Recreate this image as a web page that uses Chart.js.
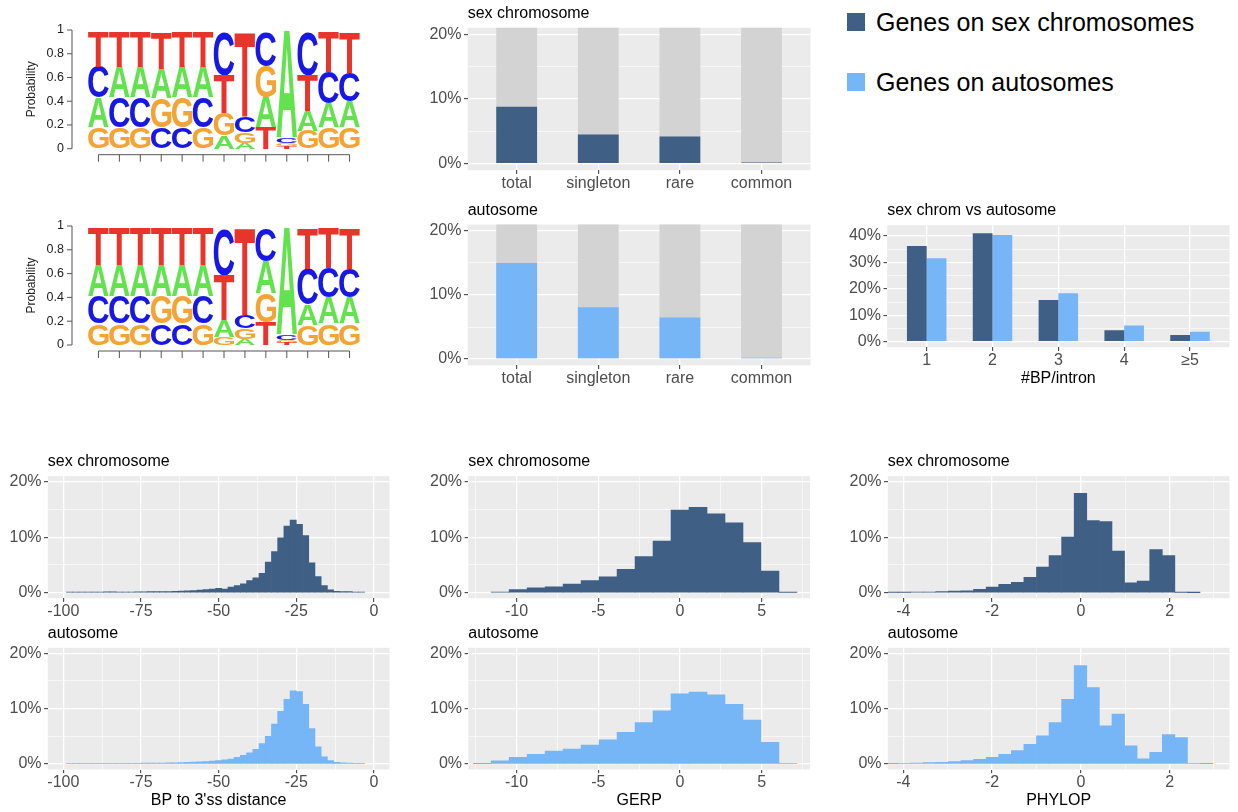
<!DOCTYPE html>
<html lang="en">
<head>
<meta charset="utf-8">
<title>Branch point features: sex chromosomes vs autosomes</title>
<script src="https://cdn.jsdelivr.net/npm/chart.js@4.4.1/dist/chart.umd.min.js"></script>
<style>
  html, body { margin: 0; padding: 0; background: #ffffff; }
  body { position: relative; width: 1238px; height: 812px; overflow: hidden;
         font-family: "Liberation Sans", Arial, Helvetica, sans-serif; }
  canvas.fig { position: absolute; }
  .key { position: absolute; left: 847px; height: 26px; display: flex; align-items: center;
         font-size: 25px; color: #000; white-space: nowrap; }
  .key i { display: inline-block; width: 18px; height: 18px; margin-right: 11px; }
</style>
</head>
<body>
<canvas class="fig" id="logoSex"></canvas>
<canvas class="fig" id="logoAuto"></canvas>
<canvas class="fig" id="varSex"></canvas>
<canvas class="fig" id="varAuto"></canvas>
<canvas class="fig" id="bpCount"></canvas>
<canvas class="fig" id="distSex"></canvas>
<canvas class="fig" id="distAuto"></canvas>
<canvas class="fig" id="gerpSex"></canvas>
<canvas class="fig" id="gerpAuto"></canvas>
<canvas class="fig" id="phylopSex"></canvas>
<canvas class="fig" id="phylopAuto"></canvas>

<div class="key" style="top:9px"><i style="background:#3F5F85"></i>Genes on sex chromosomes</div>
<div class="key" style="top:69px"><i style="background:#76B5F6"></i>Genes on autosomes</div>

<script>
// ---------- sequence logos: letter probabilities per position ----------
const logoPositions = ['1','2','3','4','5','6','7','8','9','10','11','12','13'];
const logoTicks = [0, 0.2, 0.4, 0.6, 0.8, 1];
const logoTickLabels = ['0', '0.2', '0.4', '0.6', '0.8', '1'];

const sexLogoA = [0.25, 0.26, 0.26, 0.25, 0.26, 0.26, 0.11, 0.05, 0.255, 0.90, 0.17, 0.20, 0.215];
const sexLogoC = [0.26, 0.25, 0.25, 0.18, 0.18, 0.25, 0.36, 0.13, 0.285, 0.045, 0.36, 0.27, 0.245];
const sexLogoG = [0.18, 0.18, 0.18, 0.245, 0.25, 0.18, 0.19, 0.09, 0.26, 0.025, 0.15, 0.18, 0.18];
const sexLogoT = [0.29, 0.29, 0.29, 0.305, 0.29, 0.29, 0.32, 0.71, 0.18, 0.02, 0.30, 0.33, 0.34];

const autoLogoA = [0.26, 0.26, 0.26, 0.26, 0.26, 0.26, 0.14, 0.05, 0.265, 0.905, 0.175, 0.22, 0.22];
const autoLogoC = [0.23, 0.23, 0.23, 0.18, 0.18, 0.23, 0.385, 0.11, 0.28, 0.04, 0.30, 0.25, 0.24];
const autoLogoG = [0.18, 0.18, 0.18, 0.23, 0.23, 0.18, 0.07, 0.09, 0.245, 0.025, 0.165, 0.18, 0.18];
const autoLogoT = [0.31, 0.31, 0.31, 0.31, 0.31, 0.31, 0.375, 0.73, 0.19, 0.02, 0.34, 0.33, 0.34];

// ---------- variant classes (% of branch points) ----------
const variantClasses = ['total', 'singleton', 'rare', 'common'];
const sexVariantPct  = [8.8, 4.5, 4.2, 0.2];
const autoVariantPct = [15.0, 8.1, 6.5, 0.2];
const allVariantPct  = [100, 100, 100, 100];

// ---------- branch points per intron ----------
const bpPerIntron = ['1', '2', '3', '4', '≥5'];
const sexBpPerIntronPct  = [36.2, 41.0, 15.8, 4.3, 2.5];
const autoBpPerIntronPct = [31.6, 40.4, 18.3, 6.1, 3.8];

// ---------- BP to 3'ss distance histogram (bin centres, %) ----------
const distBins = [-98, -96, -94, -92, -90, -88, -86, -84, -82, -80, -78, -76, -74, -72, -70, -68,
                  -66, -64, -62, -60, -58, -56, -54, -52, -50, -48, -46, -44, -42, -40, -38, -36,
                  -34, -32, -30, -28, -26, -24, -22, -20, -18, -16, -14, -12, -10, -8, -6, -4];
const distSexPct = [0.10, 0.10, 0.10, 0.10, 0.12, 0.12, 0.14, 0.15, 0.12, 0.13, 0.13, 0.14, 0.15, 0.18, 0.20, 0.20,
                    0.22, 0.25, 0.28, 0.32, 0.38, 0.45, 0.55, 0.65, 0.80, 0.65, 1.00, 1.30, 1.60, 2.20, 2.70, 3.50,
                    5.50, 7.40, 9.90, 12.00, 13.10, 12.30, 10.30, 5.40, 2.90, 1.30, 0.50, 0.25, 0.20, 0.20, 0.10, 0.10];
const distAutoPct = [0.08, 0.08, 0.08, 0.09, 0.09, 0.10, 0.10, 0.11, 0.11, 0.12, 0.12, 0.13, 0.14, 0.15, 0.16, 0.18,
                     0.20, 0.22, 0.25, 0.28, 0.32, 0.37, 0.42, 0.50, 0.60, 0.75, 0.90, 1.20, 1.55, 2.00, 2.65, 3.70,
                     5.00, 7.20, 9.50, 11.70, 13.20, 13.10, 10.80, 6.40, 3.10, 1.30, 0.60, 0.30, 0.20, 0.15, 0.10, 0.08];

// ---------- GERP histogram ----------
const gerpBins = [-12.1, -11.0, -9.9, -8.8, -7.7, -6.6, -5.5, -4.4, -3.3, -2.2, -1.1, 0.0, 1.1, 2.2, 3.3, 4.4, 5.5, 6.6];
const gerpSexPct  = [null, 0.10, 0.54, 0.90, 1.07, 1.55, 2.20, 2.86, 4.20, 6.50, 9.30, 14.90, 15.40, 14.20, 12.60, 9.05, 3.90, 0.05];
const gerpAutoPct = [0.05, 0.55, 1.20, 1.75, 2.35, 2.70, 3.40, 4.35, 5.70, 7.50, 9.60, 12.70, 13.00, 12.50, 10.80, 7.95, 3.90, 0.10];

// ---------- PHYLOP histogram ----------
const phylopBins = [-4.260, -3.977, -3.693, -3.410, -3.126, -2.843, -2.559, -2.276, -1.992, -1.709, -1.425, -1.142, -0.858,
                    -0.575, -0.291, -0.008, 0.276, 0.560, 0.843, 1.127, 1.410, 1.694, 1.977, 2.261, 2.544, 2.828];
const phylopSexPct  = [0.05, 0.06, 0.12, 0.12, 0.20, 0.30, 0.35, 0.60, 1.00, 1.50, 1.85, 2.75, 4.60,
                       6.70, 10.00, 17.90, 13.00, 12.80, 7.50, 1.80, 2.10, 7.75, 6.70, 0.06, 0.02, null];
const phylopAutoPct = [0.06, 0.12, 0.18, 0.24, 0.30, 0.42, 0.60, 0.85, 1.20, 1.75, 2.40, 3.55, 5.10,
                       7.50, 11.70, 17.80, 13.80, 6.90, 9.00, 3.30, 0.95, 2.10, 5.30, 4.75, 0.10, 0.05];

// ---------- axis breaks ----------
const pct20Breaks = [0, 5, 10, 15, 20],  pct20Major = [0, 10, 20];
const pct40Breaks = [0, 5, 10, 15, 20, 25, 30, 35, 40], pct40Major = [0, 10, 20, 30, 40];
const distBreaks = [-100, -87.5, -75, -62.5, -50, -37.5, -25, -12.5, 0], distMajor = [-100, -75, -50, -25, 0];
const gerpBreaks = [-12.5, -10, -7.5, -5, -2.5, 0, 2.5, 5, 7.5], gerpMajor = [-10, -5, 0, 5];
const phylopBreaks = [-4, -3, -2, -1, 0, 1, 2, 3], phylopMajor = [-4, -2, 0, 2];

// ---------- styling ----------
const DARK = '#3F5F85', LIGHT = '#76B5F6', GREY = '#D3D3D3', PANEL_BG = '#EBEBEB', TICK_TEXT = '#4D4D4D';
const LETTER_COLORS = { A: '#62E34E', C: '#1818E6', G: '#F3A434', T: '#E8342A' };
const FONT = '"Liberation Sans", Arial, Helvetica, sans-serif';
Chart.defaults.font.family = FONT;

function sizeCanvas(id, box) {
  const cv = document.getElementById(id);
  cv.width = box.w; cv.height = box.h;
  cv.style.left = box.x + 'px'; cv.style.top = box.y + 'px';
  cv.style.width = box.w + 'px'; cv.style.height = box.h + 'px';
  return cv;
}

// grey panel background behind the grid
const panelBackground = {
  id: 'panelBackground',
  beforeDraw(chart) {
    const { ctx, chartArea: a } = chart;
    ctx.save();
    ctx.fillStyle = PANEL_BG;
    ctx.fillRect(a.left, a.top, a.width, a.height);
    ctx.restore();
  }
};

// left-aligned panel title above the plotting area
const panelTitle = {
  id: 'panelTitle',
  afterDraw(chart, args, opts) {
    if (!opts || !opts.text) return;
    const { ctx, chartArea: a } = chart;
    ctx.save();
    ctx.fillStyle = '#000';
    ctx.font = '16px ' + FONT;
    ctx.textAlign = 'left';
    ctx.textBaseline = 'alphabetic';
    ctx.fillText(opts.text, a.left, a.top - 10);
    ctx.restore();
  }
};

const near = (list, v) => list.some(m => Math.abs(m - v) < 1e-6);

function axisGrid(major) {
  return {
    color: '#FFFFFF',
    lineWidth: c => near(major, c.tick.value) ? 1.3 : 0.6,
    drawTicks: true,
    tickLength: 3.7,
    tickWidth: 1,
    tickColor: c => near(major, c.tick.value) ? '#333333' : 'rgba(0,0,0,0)',
    offset: false
  };
}

function ggChart(id, box, panel, spec) {
  const cv = sizeCanvas(id, box);
  return new Chart(cv, {
    type: 'bar',
    data: { datasets: spec.datasets },
    options: {
      responsive: false,
      animation: false,
      devicePixelRatio: 1,
      layout: {
        autoPadding: false,
        padding: { left: 0, bottom: 0, top: panel.top - box.y, right: box.x + box.w - panel.right }
      },
      plugins: { legend: { display: false }, tooltip: { enabled: false }, panelTitle: { text: spec.title } },
      scales: {
        x: {
          type: 'linear', position: 'bottom', min: spec.xMin, max: spec.xMax, offset: false,
          afterBuildTicks: s => { s.ticks = spec.xBreaks.map(v => ({ value: v })); },
          afterFit: s => { s.height = box.y + box.h - panel.bottom; s.paddingLeft = 0; s.paddingRight = 0; },
          grid: axisGrid(spec.xMajor),
          border: { display: false },
          ticks: {
            autoSkip: false, maxRotation: 0, minRotation: 0, padding: 0,
            color: TICK_TEXT, font: { size: 16 },
            callback: v => near(spec.xMajor, v) ? spec.xLabel(v) : ''
          },
          title: spec.xTitle
            ? { display: true, text: spec.xTitle, color: '#000', font: { size: 16 }, padding: { top: 0, bottom: spec.xTitlePad } }
            : { display: false }
        },
        y: {
          type: 'linear', position: 'left', min: spec.yMin, max: spec.yMax,
          afterBuildTicks: s => { s.ticks = spec.yBreaks.map(v => ({ value: v })); },
          afterFit: s => { s.width = panel.left - box.x; s.paddingTop = 0; s.paddingBottom = 0; },
          grid: axisGrid(spec.yMajor),
          border: { display: false },
          ticks: {
            autoSkip: false, padding: 2.6, color: TICK_TEXT, font: { size: 16 },
            callback: v => near(spec.yMajor, v) ? v + '%' : ''
          }
        }
      }
    },
    plugins: [panelBackground, panelTitle]
  });
}

function pairs(xs, ys) { return xs.map((x, i) => ({ x: x, y: ys[i] })); }

function histogram(id, box, panel, title, bins, values, color, axis, xTitle) {
  return ggChart(id, box, panel, {
    title: title,
    datasets: [{ data: pairs(bins, values), backgroundColor: color, borderWidth: 0,
                 barPercentage: 1, categoryPercentage: 1 }],
    xMin: axis.min, xMax: axis.max, xBreaks: axis.breaks, xMajor: axis.major,
    xLabel: v => String(v), xTitle: xTitle, xTitlePad: 2.1,
    yMin: -1, yMax: 21, yBreaks: pct20Breaks, yMajor: pct20Major
  });
}

function variantChart(id, box, panel, title, values, color) {
  const idx = variantClasses.map((c, i) => i + 1);
  return ggChart(id, box, panel, {
    title: title,
    datasets: [
      { data: pairs(idx, values), backgroundColor: color, borderWidth: 0, grouped: false,
        barPercentage: 0.5, categoryPercentage: 1, order: 1 },
      { data: pairs(idx, allVariantPct), backgroundColor: GREY, borderWidth: 0, grouped: false,
        barPercentage: 0.5, categoryPercentage: 1, order: 2 }
    ],
    xMin: 0.4, xMax: 4.6, xBreaks: idx, xMajor: idx, xLabel: v => variantClasses[v - 1],
    yMin: -1, yMax: 21, yBreaks: pct20Breaks, yMajor: pct20Major
  });
}

// ---------- sequence logo drawing ----------
function drawGlyph(ctx, letter, x0, y0, w, h, color) {
  if (w <= 0 || h <= 0) return;
  ctx.save();
  ctx.font = 'bold 200px ' + FONT;
  const m = ctx.measureText(letter);
  const gw = m.actualBoundingBoxLeft + m.actualBoundingBoxRight;
  const gh = m.actualBoundingBoxAscent + m.actualBoundingBoxDescent;
  ctx.translate(x0, y0);
  ctx.scale(w / gw, h / gh);
  ctx.fillStyle = color;
  ctx.textAlign = 'left';
  ctx.textBaseline = 'alphabetic';
  ctx.fillText(letter, m.actualBoundingBoxLeft, m.actualBoundingBoxAscent);
  ctx.restore();
}

const logoLetters = {
  id: 'logoLetters',
  afterDatasetsDraw(chart) {
    const ctx = chart.ctx;
    chart.data.datasets.forEach((ds, di) => {
      chart.getDatasetMeta(di).data.forEach(bar => {
        const p = bar.getProps(['x', 'y', 'base', 'width'], true);
        const top = Math.min(p.y, p.base), h = Math.abs(p.base - p.y);
        drawGlyph(ctx, ds.label, p.x - p.width * 0.49, top, p.width * 0.98, h, LETTER_COLORS[ds.label]);
      });
    });
  }
};

// base-graphics style axes for the logo
const logoAxes = {
  id: 'logoAxes',
  afterDraw(chart) {
    const { ctx, chartArea: a, scales: { x, y } } = chart;
    const axX = a.left - 16;
    const y0 = y.getPixelForValue(0), y1 = y.getPixelForValue(1);
    ctx.save();
    ctx.strokeStyle = '#555';
    ctx.lineWidth = 1;
    ctx.beginPath();
    ctx.moveTo(axX, y0); ctx.lineTo(axX, y1);
    logoTicks.forEach(v => { const py = y.getPixelForValue(v); ctx.moveTo(axX - 5, py); ctx.lineTo(axX, py); });
    const axY = a.bottom + 6;
    ctx.moveTo(x.getPixelForValue(0), axY);
    ctx.lineTo(x.getPixelForValue(logoPositions.length - 1), axY);
    logoPositions.forEach((_, i) => { const px = x.getPixelForValue(i); ctx.moveTo(px, axY); ctx.lineTo(px, axY + 7); });
    ctx.stroke();
    ctx.fillStyle = '#222';
    ctx.font = '12.5px ' + FONT;
    ctx.textAlign = 'right';
    ctx.textBaseline = 'middle';
    logoTicks.forEach((v, i) => ctx.fillText(logoTickLabels[i], axX - 8, y.getPixelForValue(v)));
    ctx.font = '12px ' + FONT;
    ctx.translate(a.left - 56, (y0 + y1) / 2);
    ctx.rotate(-Math.PI / 2);
    ctx.textAlign = 'center';
    ctx.fillText('Probability', 0, 0);
    ctx.restore();
  }
};

function logoChart(id, box, panel, probs) {
  const cv = sizeCanvas(id, box);
  const letters = ['A', 'C', 'G', 'T'];
  const spans = { A: [], C: [], G: [], T: [] };
  // stack letters in each column from least to most probable
  logoPositions.forEach((_, i) => {
    let base = 0;
    letters.slice().sort((p, q) => probs[p][i] - probs[q][i]).forEach(L => {
      spans[L].push([base, base + probs[L][i]]);
      base += probs[L][i];
    });
  });
  return new Chart(cv, {
    type: 'bar',
    data: {
      labels: logoPositions,
      datasets: letters.map(L => ({ label: L, data: spans[L], backgroundColor: 'rgba(0,0,0,0)',
                                    borderWidth: 0, grouped: false, barPercentage: 1, categoryPercentage: 1 }))
    },
    options: {
      responsive: false, animation: false, devicePixelRatio: 1,
      layout: { autoPadding: false, padding: { left: panel.left - box.x, right: box.x + box.w - panel.right,
                                               top: panel.top - box.y, bottom: box.y + box.h - panel.bottom } },
      plugins: { legend: { display: false }, tooltip: { enabled: false } },
      scales: { x: { display: false }, y: { display: false, min: 0, max: 1 } }
    },
    plugins: [logoLetters, logoAxes]
  });
}

// ---------- build the figure ----------
logoChart('logoSex',  { x: 0, y: 0,   w: 400, h: 180 }, { left: 88, right: 360, top: 30,  bottom: 148.7 },
          { A: sexLogoA, C: sexLogoC, G: sexLogoG, T: sexLogoT });
logoChart('logoAuto', { x: 0, y: 188, w: 400, h: 180 }, { left: 88, right: 360, top: 226, bottom: 345 },
          { A: autoLogoA, C: autoLogoC, G: autoLogoG, T: autoLogoT });

variantChart('varSex',  { x: 405, y: 0,   w: 410, h: 195 }, { left: 467.7, right: 810.5, top: 27.8,  bottom: 170.2 },
             'sex chromosome', sexVariantPct, DARK);
variantChart('varAuto', { x: 405, y: 195, w: 410, h: 195 }, { left: 467.7, right: 810.5, top: 224.6, bottom: 365.4 },
             'autosome', autoVariantPct, LIGHT);

(function () {
  const idx = bpPerIntron.map((c, i) => i + 1);
  ggChart('bpCount', { x: 825, y: 195, w: 413, h: 200 }, { left: 887.2, right: 1229.5, top: 225.16, bottom: 347.25 }, {
    title: 'sex chrom vs autosome',
    datasets: [
      { data: pairs(idx, sexBpPerIntronPct),  backgroundColor: DARK,  borderWidth: 0, barPercentage: 1, categoryPercentage: 0.6 },
      { data: pairs(idx, autoBpPerIntronPct), backgroundColor: LIGHT, borderWidth: 0, barPercentage: 1, categoryPercentage: 0.6 }
    ],
    xMin: 0.4, xMax: 5.6, xBreaks: idx, xMajor: idx, xLabel: v => bpPerIntron[v - 1],
    xTitle: '#BP/intron', xTitlePad: 6.9,
    yMin: -2.1, yMax: 44.1, yBreaks: pct40Breaks, yMajor: pct40Major
  });
})();

const distAxis   = { min: -105,  max: 5,    breaks: distBreaks,   major: distMajor };
const gerpAxis   = { min: -12.95, max: 7.95, breaks: gerpBreaks,  major: gerpMajor };
const phylopAxis = { min: -4.35, max: 3.35, breaks: phylopBreaks, major: phylopMajor };

const rowTop = { box: 440, top: 476.15, bottom: 598.25 };
const rowBot = { box: 612, top: 647.8,  bottom: 769.5 };

histogram('distSex',  { x: 0, y: rowTop.box, w: 400, h: 180 }, { left: 47.8, right: 389.5, top: rowTop.top, bottom: rowTop.bottom },
          'sex chromosome', distBins, distSexPct, DARK, distAxis, null);
histogram('distAuto', { x: 0, y: rowBot.box, w: 400, h: 200 }, { left: 47.8, right: 389.5, top: rowBot.top, bottom: rowBot.bottom },
          'autosome', distBins, distAutoPct, LIGHT, distAxis, "BP to 3'ss distance");

histogram('gerpSex',  { x: 405, y: rowTop.box, w: 410, h: 180 }, { left: 468.3, right: 810, top: rowTop.top, bottom: rowTop.bottom },
          'sex chromosome', gerpBins, gerpSexPct, DARK, gerpAxis, null);
histogram('gerpAuto', { x: 405, y: rowBot.box, w: 410, h: 200 }, { left: 468.3, right: 810, top: rowBot.top, bottom: rowBot.bottom },
          'autosome', gerpBins, gerpAutoPct, LIGHT, gerpAxis, 'GERP');

histogram('phylopSex',  { x: 825, y: rowTop.box, w: 413, h: 180 }, { left: 887.8, right: 1229.5, top: rowTop.top, bottom: rowTop.bottom },
          'sex chromosome', phylopBins, phylopSexPct, DARK, phylopAxis, null);
histogram('phylopAuto', { x: 825, y: rowBot.box, w: 413, h: 200 }, { left: 887.8, right: 1229.5, top: rowBot.top, bottom: rowBot.bottom },
          'autosome', phylopBins, phylopAutoPct, LIGHT, phylopAxis, 'PHYLOP');
</script>
</body>
</html>
